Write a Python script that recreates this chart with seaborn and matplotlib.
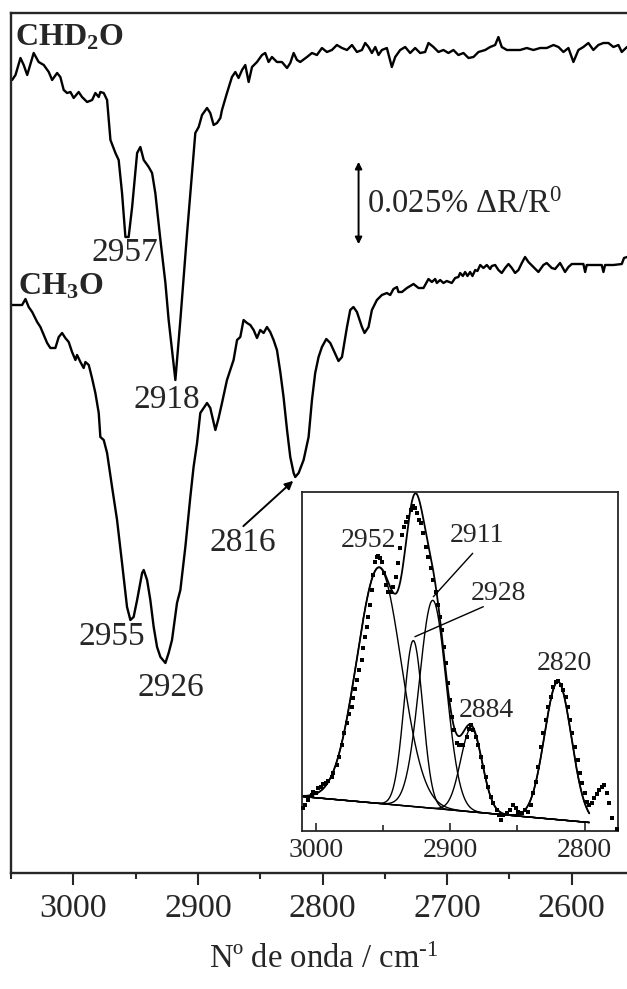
import numpy as np
import pandas as pd
import matplotlib
matplotlib.use("Agg")
import matplotlib.pyplot as plt
import seaborn as sns

# ---------------- main spectra (wavenumber / cm-1, signal in a.u.; 88 a.u. = 0.025 % dR/R0)
chd2o_wn = [3049.1, 3046.4, 3042.4, 3039.8, 3037.0, 3031.8, 3027.8, 3023.7, 3019.7, 3017.0,
            3013.0, 3010.4, 3007.7, 3005.0, 3002.3, 2999.7, 2995.7, 2993.0, 2988.9, 2984.9,
            2982.3, 2979.6, 2978.3, 2975.6, 2972.9, 2970.2, 2966.2, 2963.6, 2960.9, 2958.2,
            2955.6, 2952.8, 2948.8, 2946.2, 2943.5, 2939.5, 2936.8, 2934.2, 2930.1, 2926.1,
            2923.5, 2918.1, 2914.1, 2908.7, 2904.7, 2902.1, 2899.4, 2896.7, 2892.7, 2890.1,
            2887.4, 2884.7, 2882.0, 2880.7, 2876.7, 2872.7, 2870.0, 2867.4, 2864.6, 2862.0,
            2859.3, 2856.6, 2852.6, 2848.6, 2846.0, 2843.3, 2840.6, 2836.6, 2832.6, 2828.5,
            2825.9, 2823.2, 2820.5, 2817.9, 2812.5, 2808.5, 2804.5, 2800.5, 2796.5, 2792.5,
            2788.5, 2784.4, 2780.4, 2776.4, 2772.4, 2768.4, 2765.8, 2763.1, 2760.4, 2757.7,
            2755.1, 2752.4, 2748.4, 2744.4, 2741.7, 2737.7, 2733.7, 2729.7, 2725.7, 2721.7,
            2717.7, 2715.0, 2711.0, 2707.0, 2703.0, 2699.0, 2695.0, 2691.0, 2686.9, 2682.9,
            2678.9, 2674.9, 2669.5, 2665.5, 2661.5, 2658.9, 2656.2, 2652.1, 2646.8, 2641.5,
            2636.1, 2630.8, 2625.4, 2620.1, 2614.7, 2610.7, 2606.7, 2602.7, 2598.7, 2594.7,
            2590.7, 2586.7, 2582.7, 2578.7, 2574.7, 2570.6, 2566.6, 2562.6, 2559.9, 2555.7]
chd2o_h = [796, 801, 818, 811, 801, 823, 814, 811, 804, 796,
           803, 799, 786, 783, 784, 778, 784, 779, 774, 776,
           783, 779, 784, 783, 776, 736, 723, 716, 683, 639,
           639, 669, 723, 729, 716, 709, 703, 683, 636, 593,
           556, 496, 556, 643, 703, 743, 749, 761, 768, 763,
           751, 753, 758, 766, 783, 799, 804, 798, 806, 811,
           794, 809, 814, 821, 823, 814, 819, 814, 814, 808,
           813, 823, 816, 814, 819, 823, 821, 828, 824, 826,
           831, 828, 826, 831, 824, 826, 833, 829, 823, 829,
           821, 826, 828, 809, 819, 826, 829, 823, 828, 823,
           824, 833, 829, 824, 826, 823, 826, 821, 823, 818,
           819, 824, 826, 829, 831, 839, 829, 826, 826, 826,
           828, 826, 828, 828, 831, 829, 824, 828, 814, 826,
           829, 833, 826, 831, 833, 833, 829, 831, 824, 829]

ch3o_wn = [3049.1, 3041.1, 3038.4, 3035.8, 3033.0, 3029.0, 3026.4, 3023.7, 3021.0, 3018.4,
           3014.4, 3011.7, 3009.0, 3006.4, 3003.7, 3001.0, 2998.3, 2997.0, 2994.3, 2991.7,
           2990.3, 2987.6, 2985.0, 2982.3, 2979.6, 2978.3, 2975.6, 2972.9, 2968.9, 2964.9,
           2960.9, 2956.9, 2954.2, 2951.6, 2948.8, 2944.8, 2943.5, 2940.8, 2938.2, 2935.5,
           2932.8, 2930.1, 2926.1, 2923.5, 2920.8, 2916.8, 2914.1, 2910.1, 2906.1, 2903.5,
           2900.7, 2898.1, 2895.4, 2892.7, 2890.1, 2886.0, 2883.4, 2880.7, 2876.7, 2871.4,
           2868.6, 2866.0, 2863.4, 2860.6, 2858.0, 2855.3, 2852.6, 2850.0, 2847.3, 2844.6,
           2842.0, 2839.3, 2836.6, 2833.9, 2831.3, 2828.5, 2825.9, 2823.2, 2821.9, 2819.2,
           2815.2, 2811.2, 2808.5, 2805.9, 2803.2, 2800.5, 2797.0, 2793.8, 2791.2, 2787.2,
           2784.4, 2780.4, 2777.8, 2775.2, 2772.4, 2768.4, 2766.3, 2763.1, 2760.4, 2756.4,
           2752.4, 2748.4, 2745.7, 2743.1, 2740.3, 2739.1, 2736.3, 2732.3, 2727.0, 2723.0,
           2719.0, 2715.0, 2712.3, 2709.6, 2708.3, 2705.6, 2703.0, 2700.3, 2696.3, 2693.6,
           2691.0, 2689.6, 2687.4, 2685.6, 2683.7, 2681.6, 2679.7, 2677.5, 2675.7, 2673.5,
           2670.9, 2668.2, 2665.5, 2664.2, 2661.5, 2658.9, 2656.2, 2653.5, 2650.8, 2648.1,
           2645.5, 2642.8, 2640.1, 2637.5, 2634.8, 2630.8, 2626.8, 2622.8, 2620.1, 2616.1,
           2613.4, 2609.4, 2605.4, 2602.7, 2600.0, 2593.4, 2590.7, 2589.3, 2588.0, 2581.3,
           2576.0, 2574.6, 2573.3, 2566.6, 2559.9, 2558.1, 2555.7]
ch3o_h = [571, 571, 577, 569, 564, 554, 549, 541, 533, 528,
          528, 539, 543, 538, 534, 524, 516, 521, 514, 508,
          514, 511, 498, 483, 463, 439, 436, 423, 389, 356,
          313, 269, 256, 259, 276, 303, 306, 296, 276, 249,
          229, 219, 213, 223, 236, 273, 286, 329, 379, 409,
          433, 463, 468, 473, 468, 446, 458, 473, 496, 516,
          536, 539, 556, 553, 551, 546, 538, 546, 543, 549,
          544, 536, 526, 504, 479, 446, 419, 403, 399, 403,
          416, 439, 476, 503, 519, 529, 537, 533, 526, 515,
          519, 549, 566, 569, 564, 549, 543, 549, 566, 576,
          581, 583, 581, 587, 589, 584, 584, 588, 592, 588,
          588, 597, 594, 597, 593, 596, 593, 595, 593, 598,
          599, 603, 600, 604, 600, 604, 600, 606, 605, 611,
          608, 611, 607, 610, 611, 606, 603, 608, 612, 608,
          603, 606, 613, 619, 614, 609, 604, 611, 613, 608,
          607, 613, 604, 609, 612, 612, 612, 604, 611, 611,
          611, 604, 611, 611, 612, 618, 619]

# ---------------- inset: experimental points (a.u.)
inset_wn = [3010.0, 3008.2, 3005.7, 3003.2, 3002.0, 3000.0, 2998.3, 2996.5, 2994.6, 2992.6,
            2990.8, 2988.3, 2987.1, 2984.6, 2982.7, 2980.9, 2978.9, 2977.2, 2975.2, 2973.4,
            2972.2, 2971.0, 2969.2, 2967.8, 2966.0, 2964.8, 2963.5, 2962.3, 2961.1, 2959.8,
            2958.5, 2957.3, 2956.1, 2954.8, 2953.6, 2952.4, 2951.1, 2949.4, 2947.9, 2946.2,
            2944.4, 2942.4, 2940.4, 2938.7, 2937.5, 2936.2, 2934.5, 2933.0, 2931.3, 2929.3,
            2927.6, 2926.3, 2925.0, 2923.1, 2921.8, 2920.1, 2918.1, 2916.4, 2914.4, 2912.7,
            2910.7, 2909.0, 2907.7, 2906.4, 2904.7, 2903.2, 2901.5, 2900.2, 2899.0, 2897.3,
            2895.3, 2893.3, 2890.3, 2887.8, 2886.1, 2884.6, 2882.9, 2881.1, 2879.2, 2877.2,
            2875.4, 2873.6, 2871.7, 2869.7, 2868.0, 2865.5, 2863.7, 2862.3, 2860.5, 2858.0,
            2855.6, 2853.1, 2851.3, 2849.4, 2846.9, 2844.4, 2841.9, 2839.9, 2838.2, 2836.4,
            2834.5, 2832.5, 2830.8, 2829.0, 2827.0, 2825.0, 2823.3, 2821.5, 2819.6, 2817.6,
            2815.9, 2814.1, 2812.1, 2810.9, 2809.2, 2807.2, 2805.2, 2803.5, 2801.7, 2799.7,
            2798.5, 2796.7, 2794.7, 2792.8, 2791.0, 2789.3, 2787.3, 2785.3, 2783.6, 2781.9,
            2779.9, 2776.0]
inset_h = [22.7, 26.0, 31.0, 36.0, 39.3, 37.7, 42.7, 44.3, 47.0, 47.7,
           50.3, 53.7, 57.7, 66.0, 74.3, 86.0, 98.3, 107.7, 117.0, 124.3,
           132.7, 141.7, 151.0, 161.0, 171.0, 182.7, 194.3, 204.3, 214.3, 226.0,
           241.0, 256.0, 269.3, 274.3, 275.0, 272.7, 269.3, 257.7, 246.0, 239.3,
           239.3, 244.3, 254.3, 267.7, 282.7, 296.0, 304.3, 309.3, 314.3, 321.0,
           325.0, 322.7, 317.7, 311.0, 307.7, 297.7, 284.3, 274.3, 262.7, 251.0,
           239.3, 226.0, 214.3, 201.0, 184.3, 167.7, 147.7, 131.0, 114.3, 101.0,
           87.7, 86.0, 86.0, 94.3, 101.7, 106.0, 101.0, 94.3, 86.0, 74.3,
           64.3, 54.3, 44.3, 34.3, 27.7, 21.0, 16.0, 11.0, 16.0, 17.7,
           21.0, 26.0, 22.7, 19.3, 18.3, 21.0, 19.3, 26.0, 37.7, 49.3,
           64.3, 84.3, 97.7, 111.0, 124.3, 134.3, 144.3, 149.3, 150.3, 146.0,
           141.0, 134.3, 124.3, 111.0, 97.7, 84.3, 71.0, 57.7, 47.7, 37.7,
           29.3, 26.0, 27.7, 32.7, 37.0, 41.0, 44.3, 46.0, 37.7, 27.7,
           12.7, 2.0]

# Gaussian fit components (centre / cm-1, amplitude above baseline, sigma / cm-1)
comp_center = [2953.0, 2927.5, 2913.0, 2884.3, 2819.8]
comp_amp = [236.0, 166.0, 208.0, 83.5, 138.0]
comp_sigma = [16.5, 7.0, 10.0, 8.0, 10.0]
baseline_wn = [3010.4, 2796.5]
baseline_h = [34.5, 8.5]

# labels
main_labels = ["2957", "2918", "2955", "2926"]
main_label_wn = [2959.0, 2925.3, 2968.9, 2922.1]
main_label_h = [623, 476, 239, 188]
inset_labels = ["2952", "2911", "2928", "2884", "2820"]
inset_label_wn = [2961.1, 2880.4, 2863.8, 2872.9, 2815.2]
inset_label_h = [291, 296, 238, 121, 168]
main_ticks = [3000, 2900, 2800, 2700, 2600]
main_minor = [3050, 2950, 2850, 2750, 2650]
inset_ticks = [3000, 2900, 2800]
inset_minor = [2950, 2850]

# ---------------- style
sns.set_style("ticks")
plt.rcParams['font.family'] = ['Liberation Serif', 'DejaVu Serif']
plt.rcParams['mathtext.fontset'] = 'custom'
plt.rcParams['mathtext.rm'] = 'Liberation Serif'
plt.rcParams['mathtext.it'] = 'Liberation Serif:italic'
plt.rcParams['mathtext.bf'] = 'Liberation Serif:bold'
plt.rcParams['mathtext.default'] = 'regular'

W, H = 627, 989
fig = plt.figure(figsize=(W / 100, H / 100), dpi=100)
ax = fig.add_axes([11 / W, 1 - 873 / H, 616 / W, 860 / H])

df1 = pd.DataFrame({"wn": chd2o_wn, "h": chd2o_h})
df2 = pd.DataFrame({"wn": ch3o_wn, "h": ch3o_h})
sns.lineplot(data=df1, x="wn", y="h", ax=ax, color="black", lw=1.7, estimator=None, sort=False)
sns.lineplot(data=df2, x="wn", y="h", ax=ax, color="black", lw=1.7, estimator=None, sort=False)

ax.set_xlim(3050, 2555.7)
ax.set_ylim(3, 863)
ax.set_yticks([])
ax.set_xticks(main_ticks)
ax.set_xticks(main_minor, minor=True)
ax.set_xticklabels([str(t) for t in main_ticks])
ax.tick_params(axis='x', which='major', direction='out', length=8.6, width=1.5,
               labelsize=24.5, pad=6)
ax.tick_params(axis='x', which='minor', direction='out', length=4.3, width=1.5)
ax.set_xlabel("")
ax.set_ylabel("")
for s in ["left", "top", "bottom"]:
    ax.spines[s].set_linewidth(1.7)
ax.spines["right"].set_visible(False)

ax.text(3046.5, 838, "CHD$_2$O", fontsize=23, fontweight="bold", ha="left", va="center")
ax.text(3044.5, 589, "CH$_3$O", fontsize=23, fontweight="bold", ha="left", va="center")
for t, xw, yh in zip(main_labels, main_label_wn, main_label_h):
    ax.text(xw, yh, t, fontsize=24, ha="center", va="center")
ax.text(2864.0, 333, "2816", fontsize=24, ha="center", va="center")
ax.annotate("", xy=(2821.9, 397), xytext=(2865.2, 348),
            arrowprops=dict(arrowstyle="-|>", color="black", lw=1.4, mutation_scale=12))
# scale bar
ax.annotate("", xy=(2771.1, 717), xytext=(2771.1, 629),
            arrowprops=dict(arrowstyle="<|-|>", color="black", lw=1.4, mutation_scale=10))
ax.text(2764.4, 671, "0.025% ΔR/R$^0$", fontsize=23.5, ha="left", va="center")

fig.text(324 / W, 1 - 960 / H, "Nº de onda / cm$^{\u2010 1}$", fontsize=23.5,
         ha="center", va="center")

# ---------------- inset
axi = fig.add_axes([302 / W, 1 - 831 / H, 316 / W, 339 / H])
axi.set_facecolor("white")
grid = np.linspace(baseline_wn[0], baseline_wn[1], 500)
base = np.interp(grid, baseline_wn[::-1], baseline_h[::-1])
total = base.copy()
for c, a, sg in zip(comp_center, comp_amp, comp_sigma):
    g = a * np.exp(-0.5 * ((grid - c) / sg) ** 2)
    total += g
    sns.lineplot(x=grid, y=base + g, ax=axi, color="black", lw=1.0, estimator=None, sort=False)
sns.lineplot(x=grid, y=total, ax=axi, color="black", lw=1.3, estimator=None, sort=False)
sns.lineplot(x=baseline_wn, y=baseline_h, ax=axi, color="black", lw=1.0, estimator=None, sort=False)
sns.scatterplot(x=inset_wn, y=inset_h, ax=axi, color="black", s=7, marker="s",
                linewidth=0, zorder=5, clip_on=False)

axi.set_xlim(3010.4, 2775.1)
axi.set_ylim(0, 339)
axi.set_yticks([])
axi.set_xticks(inset_ticks)
axi.set_xticks(inset_minor, minor=True)
axi.set_xticklabels([str(t) for t in inset_ticks])
axi.tick_params(axis='x', which='major', direction='in', length=6, width=1.2,
                labelsize=20, pad=5)
axi.tick_params(axis='x', which='minor', direction='in', length=4, width=1.2)
for s in axi.spines.values():
    s.set_linewidth(1.3)

for t, xw, yh in zip(inset_labels, inset_label_wn, inset_label_h):
    axi.text(xw, yh, t, fontsize=20, ha="center", va="center")
axi.plot([2883.3, 2912.6], [277.7, 234.3], color="black", lw=1.0)
axi.plot([2875.4, 2926.3], [224.3, 194.3], color="black", lw=1.0)

fig.savefig("out.png", dpi=100)
